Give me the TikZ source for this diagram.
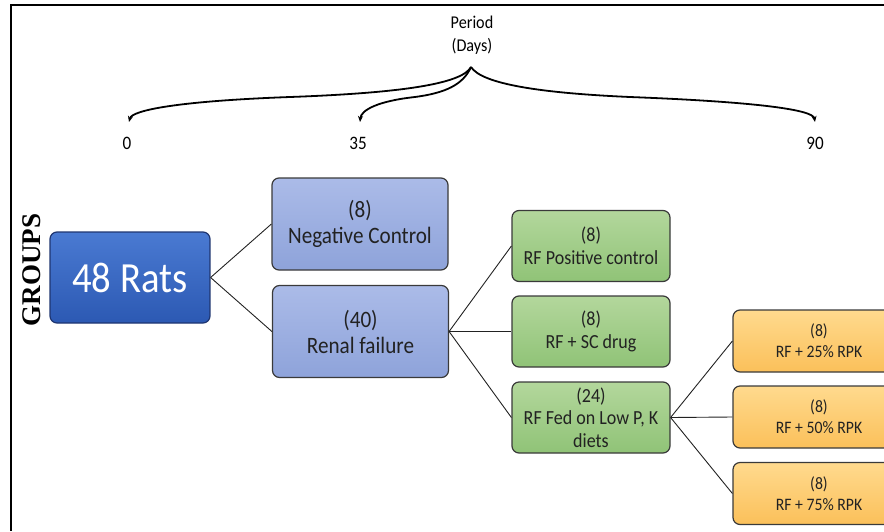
\documentclass[tikz,border=0pt]{standalone}
\usepackage{fontspec}
\setmainfont{Carlito}[FakeStretch=0.9]
\newfontfamily\groupsfont{Liberation Serif}
\usetikzlibrary{positioning,arrows.meta}
\definecolor{ratsTop}{HTML}{4A7AD2}
\definecolor{ratsBot}{HTML}{2C59B3}
\definecolor{ratsLine}{HTML}{1F3570}
\definecolor{blueTop}{HTML}{ABBBE8}
\definecolor{blueBot}{HTML}{8EA3DA}
\definecolor{greenTop}{HTML}{B3D79C}
\definecolor{greenBot}{HTML}{90C377}
\definecolor{orangeTop}{HTML}{FFDA8E}
\definecolor{orangeBot}{HTML}{FBC05A}
\definecolor{boxLine}{HTML}{3A3A3A}
\definecolor{txt}{HTML}{222222}
\tikzset{
  groupbox/.style={draw=boxLine, line width=1.2pt, rounded corners=7pt,
    align=center, inner sep=0pt, text=txt},
  ratsbox/.style={groupbox, draw=ratsLine, top color=ratsTop, bottom color=ratsBot,
    text=white, minimum width=160pt, minimum height=91pt,
    font=\fontsize{43}{45}\selectfont},
  bluebox/.style={groupbox, top color=blueTop, bottom color=blueBot,
    minimum width=176pt, minimum height=92pt, font=\fontsize{23.5}{26}\selectfont},
  greenbox/.style={groupbox, top color=greenTop, bottom color=greenBot,
    minimum width=158pt, minimum height=71pt, font=\fontsize{20}{22.5}\selectfont},
  orangebox/.style={groupbox, top color=orangeTop, bottom color=orangeBot,
    minimum width=172pt, minimum height=62pt, font=\fontsize{17.5}{21}\selectfont},
  link/.style={draw=txt, line width=0.9pt},
  daylabel/.style={inner sep=0pt, font=\fontsize{19}{21}\selectfont}
}
\begin{document}
\begin{tikzpicture}[x=1pt,y=-1pt,>={Stealth[length=6pt,width=5pt]}]
    \useasboundingbox (0,0) rectangle (884,531);
    \clip (0,0) rectangle (884,531);
    % frame
    \draw[line width=1.5pt] (884,5) -- (11,5) -- (11,531);
    % time axis
    \node[daylabel, align=center, font=\fontsize{18}{23}\selectfont] (period) at (472,35) {Period\\(Days)};
    \coordinate (apex) at (471,67);
    \node[daylabel] (d0) at (127,143) {0};
    \node[daylabel] (d35) at (358,143) {35};
    \node[daylabel] (d90) at (815,143) {90};
    \coordinate (t0) at (129,122);
    \coordinate (t35) at (360,122);
    \coordinate (t90) at (815,122);
    \draw[->, line width=1.8pt] (apex) .. controls (462,84) and (400,93) .. (290,97)
        .. controls (180,101) and (132,110) .. (t0);
    \draw[->, line width=1.8pt] (apex) .. controls (463,85) and (445,93) .. (415,97)
        .. controls (378,101) and (361,110) .. (t35);
    \draw[->, line width=1.8pt] (apex) .. controls (482,84) and (540,93) .. (630,97)
        .. controls (760,102) and (813,110) .. (t90);
    % groups
    \node[rotate=90, inner sep=0pt, font=\groupsfont\bfseries\fontsize{27}{27}\selectfont] (groups) at (32,270) {GROUPS};
    \node[ratsbox] (rats) at (130,277.5) {48 Rats};
    \node[bluebox] (neg) at (360,224) {(8)\\Negative Control};
    \node[bluebox] (renal) at (360.5,331.5) {(40)\\Renal failure};
    \node[greenbox] (pos) at (591,246) {(8)\\RF Positive control};
    \node[greenbox] (sc) at (591,331.5) {(8)\\RF + SC drug};
    \node[greenbox] (fed) at (591,417.5) {(24)\\RF Fed on Low P, K\\diets};
    \node[orangebox] (low) at (819,341) {(8)\\RF + 25\% RPK};
    \node[orangebox] (mid) at (819,417) {(8)\\RF + 50\% RPK};
    \node[orangebox] (high) at (819,493.5) {(8)\\RF + 75\% RPK};
    % connectors
    \draw[link] (rats.east) -- (neg.west);
    \draw[link] (rats.east) -- (renal.west);
    \draw[link] (renal.east) -- (pos.west);
    \draw[link] (renal.east) -- (sc.west);
    \draw[link] (renal.east) -- (fed.west);
    \draw[link] (fed.east) -- (low.west);
    \draw[link] (fed.east) -- (mid.west);
    \draw[link] (fed.east) -- (high.west);
\end{tikzpicture}
\end{document}
